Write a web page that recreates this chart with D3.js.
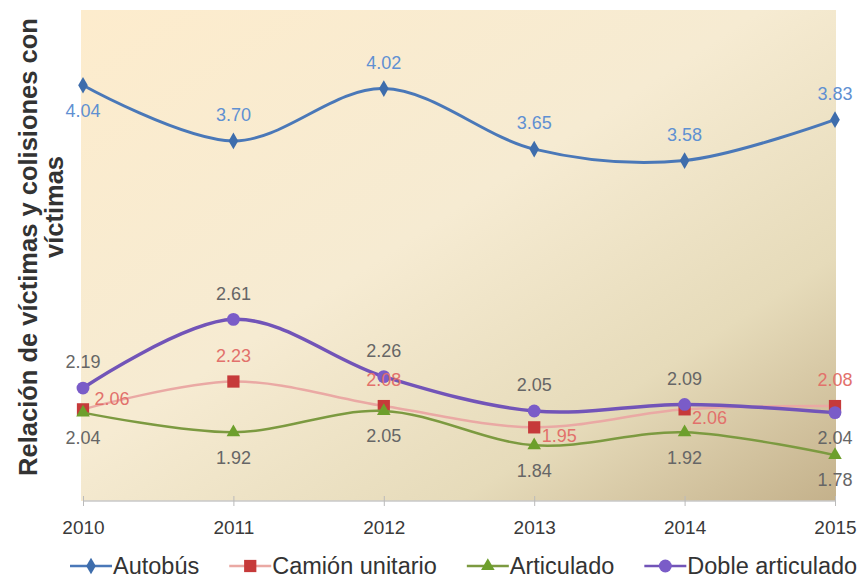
<!DOCTYPE html>
<html>
<head>
<meta charset="utf-8">
<script src="https://cdn.jsdelivr.net/npm/d3@7"></script>
<style>
  body { margin: 0; background: #fff; }
  text { font-family: "Liberation Sans", Arial, sans-serif; }
</style>
</head>
<body>
<div id="chart"></div>
<script>
const years = ["2010", "2011", "2012", "2013", "2014", "2015"];
const autobus = [4.04, 3.70, 4.02, 3.65, 3.58, 3.83];
const camionUnitario = [2.06, 2.23, 2.08, 1.95, 2.06, 2.08];
const articulado = [2.04, 1.92, 2.05, 1.84, 1.92, 1.78];
const dobleArticulado = [2.19, 2.61, 2.26, 2.05, 2.09, 2.04];
const seriesNames = ["Autobús", "Camión unitario", "Articulado", "Doble articulado"];
const yTitle = ["Relación de víctimas y colisiones con", "víctimas"];

// where each value label sits: t = above, b = below, r = right, ur = up-right
const autobusLabels = ["b", "t", "t", "t", "t", "t"];
const camionLabels = ["ur", "t", "t", "r", "r", "t"];
const articuladoLabels = ["b", "b", "b", "b", "b", "b"];
const dobleLabels = ["t", "t", "t", "t", "t", "b"];

const width = 865, height = 586;
const plot = {left: 81, right: 836, top: 10, bottom: 501};

const svg = d3.select("#chart").append("svg")
    .attr("width", width)
    .attr("height", height);

const defs = svg.append("defs");
const grad = defs.append("linearGradient")
    .attr("id", "bg")
    .attr("x1", "0%").attr("y1", "0%")
    .attr("x2", "100%").attr("y2", "100%");
grad.append("stop").attr("offset", "0%").attr("stop-color", "#fdeccd");
grad.append("stop").attr("offset", "45%").attr("stop-color", "#f6ebd2");
grad.append("stop").attr("offset", "75%").attr("stop-color", "#e6dbba");
grad.append("stop").attr("offset", "100%").attr("stop-color", "#c4b18b");

svg.append("rect")
    .attr("x", plot.left)
    .attr("y", plot.top)
    .attr("width", plot.right - plot.left)
    .attr("height", plot.bottom - plot.top)
    .attr("fill", "url(#bg)");

const x = d3.scalePoint()
    .domain(years)
    .range([plot.left + 2, plot.right - 1]);

const y = d3.scaleLinear()
    .domain([1.5, 4.5])
    .range([plot.bottom, plot.top]);

// x axis
const xAxis = svg.append("g")
    .attr("transform", `translate(0,${plot.bottom})`)
    .call(d3.axisBottom(x).tickSizeInner(5).tickSizeOuter(0).tickPadding(15));
xAxis.select(".domain").attr("stroke", "#c8c8c8").attr("stroke-width", 1.5)
    .attr("d", `M${x("2010")},0H${x("2015")}`);
xAxis.selectAll(".tick line").attr("stroke", "#bbb").attr("y1", -5);
xAxis.selectAll(".tick text")
    .attr("font-size", 19)
    .attr("fill", "#3a3a3a")
    .attr("font-family", "Liberation Sans, Arial, sans-serif");

// y axis title
const titleG = svg.append("g").attr("font-weight", "bold").attr("fill", "#333");
titleG.append("text")
    .attr("transform", `translate(37,${247}) rotate(-90)`)
    .attr("text-anchor", "middle")
    .attr("font-size", 25.5)
    .text(yTitle[0]);
titleG.append("text")
    .attr("transform", `translate(63,${207}) rotate(-90)`)
    .attr("text-anchor", "middle")
    .attr("font-size", 25.5)
    .text(yTitle[1]);

const series = [
    {name: seriesNames[0], values: autobus, labels: autobusLabels, line: "#4a78b8", width: 3,
     marker: "#3e6dac", symbol: d3.symbolDiamond, size: 80, labelColor: "#5f90d2"},
    {name: seriesNames[1], values: camionUnitario, labels: camionLabels, line: "#eaa9a4", width: 2.5,
     marker: "#c63a3a", symbol: d3.symbolSquare, size: 150, labelColor: "#e2716b"},
    {name: seriesNames[2], values: articulado, labels: articuladoLabels, line: "#7c9a40", width: 2.5,
     marker: "#6d9f2c", symbol: d3.symbolTriangle, size: 80, labelColor: "#666"},
    {name: seriesNames[3], values: dobleArticulado, labels: dobleLabels, line: "#7254b8", width: 3.5,
     marker: "#7a5cc8", symbol: d3.symbolCircle, size: 130, labelColor: "#666"}
];

const line = d3.line()
    .x((d, i) => x(years[i]))
    .y(d => y(d))
    .curve(d3.curveCardinal.tension(0));

series.forEach(s => {
    svg.append("path")
        .datum(s.values)
        .attr("fill", "none")
        .attr("stroke", s.line)
        .attr("stroke-width", s.width)
        .attr("d", line);
    svg.selectAll(null)
        .data(s.values)
        .enter().append("path")
        .attr("transform", (d, i) => `translate(${x(years[i])},${y(d)})`)
        .attr("d", d3.symbol().type(s.symbol).size(s.size))
        .attr("fill", s.marker);
});

const fmt = d3.format(".2f");
const place = {
    t: [0, -26], b: [0, 25], r: [25, 8], ur: [29, -11]
};
series.forEach(s => {
    svg.selectAll(null)
        .data(s.values)
        .enter().append("text")
        .attr("x", (d, i) => x(years[i]) + place[s.labels[i]][0])
        .attr("y", (d, i) => y(d) + place[s.labels[i]][1])
        .attr("dy", "0.35em")
        .attr("text-anchor", "middle")
        .attr("font-size", 18)
        .attr("fill", s.labelColor)
        .text(d => fmt(d));
});

// legend
const legend = svg.append("g").attr("transform", `translate(70,566)`);
let lx = 0;
series.forEach(s => {
    const g = legend.append("g").attr("transform", `translate(${lx},0)`);
    g.append("line")
        .attr("x1", 0).attr("x2", 42)
        .attr("stroke", s.line)
        .attr("stroke-width", 2.5);
    g.append("path")
        .attr("transform", "translate(21,0)")
        .attr("d", d3.symbol().type(s.symbol).size(s.size))
        .attr("fill", s.marker);
    const t = g.append("text")
        .attr("x", 43)
        .attr("dy", "0.36em")
        .attr("font-size", 23.5)
        .attr("fill", "#333")
        .text(s.name);
    lx += 43 + t.node().getComputedTextLength() + 30;
});
</script>
</body>
</html>
